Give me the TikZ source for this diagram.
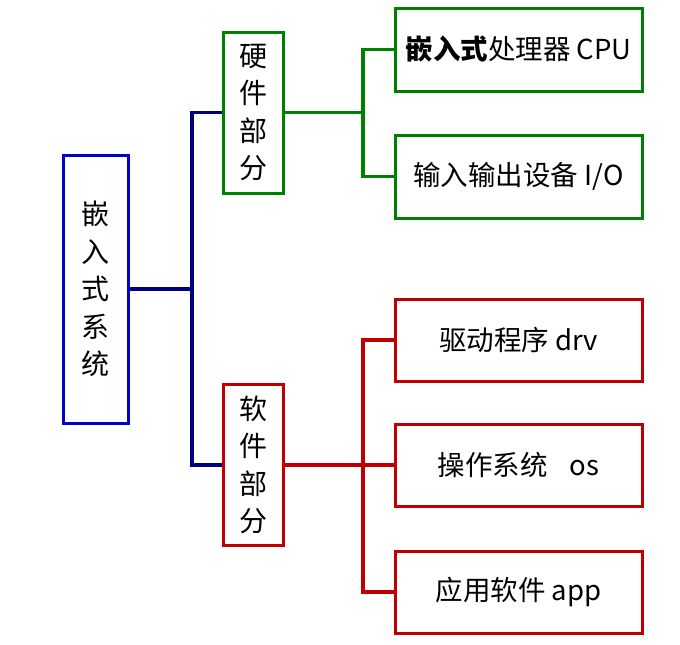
\documentclass[tikz,border=0pt]{standalone}
\usepackage{fontspec}
\setmainfont{Noto Sans CJK SC}
\definecolor{rootblue}{RGB}{0,0,204}
\definecolor{navy}{RGB}{0,0,128}
\definecolor{hwgreen}{RGB}{0,128,0}
\definecolor{swred}{RGB}{192,0,0}
\begin{document}
\begin{tikzpicture}[x=1pt,y=-1pt,
  box/.style={draw, line width=3pt, inner sep=0pt, text=black},
  vtext/.style={font=\fontsize{28}{37.5}\selectfont, align=center},
  htext/.style={font=\fontsize{27.5}{30}\selectfont},
  link/.style={line width=3.5pt}]
\useasboundingbox (0,0) rectangle (680,645);
% root
\node[box, draw=rootblue, minimum width=65pt, minimum height=268pt, vtext] (root) at (95.5,289) {嵌\\入\\式\\系\\统};
% second level
\node[box, draw=hwgreen, minimum width=60pt, minimum height=161pt, vtext] (hw) at (253.5,112.5) {硬\\件\\部\\分};
\node[box, draw=swred, minimum width=60pt, minimum height=161pt, vtext] (sw) at (253.5,465) {软\\件\\部\\分};
% leaves
\node[box, draw=hwgreen, minimum width=247pt, minimum height=83pt, htext] (cpu) at (518.5,49.5) {\textbf{嵌入式}处理器 CPU};
\node[box, draw=hwgreen, minimum width=247pt, minimum height=83pt, htext] (io) at (518.5,176.5) {输入输出设备 I/O};
\node[box, draw=swred, minimum width=247pt, minimum height=82pt, htext] (drv) at (518.5,340) {驱动程序 drv};
\node[box, draw=swred, minimum width=247pt, minimum height=82pt, htext] (os) at (518.5,465) {操作系统\hspace{0.8em}os};
\node[box, draw=swred, minimum width=247pt, minimum height=82pt, htext] (app) at (518.5,592) {应用软件 app};
% junctions
\coordinate (j1) at (192,289);
\coordinate (j2) at (363,112.5);
\coordinate (j3) at (363,465);
% connectors
\draw[link, navy] (root.east) -- (j1);
\draw[link, navy] (hw.west) -| (j1) |- (sw.west);
\draw[link, hwgreen] (hw.east) -- (j2);
\draw[link, hwgreen] (cpu.west) -| (j2) |- (io.west);
\draw[link, swred] (sw.east) -- (j3);
\draw[link, swred] (drv.west) -| (j3) |- (app.west);
\draw[link, swred] (j3) -- (os.west);
\end{tikzpicture}
\end{document}
